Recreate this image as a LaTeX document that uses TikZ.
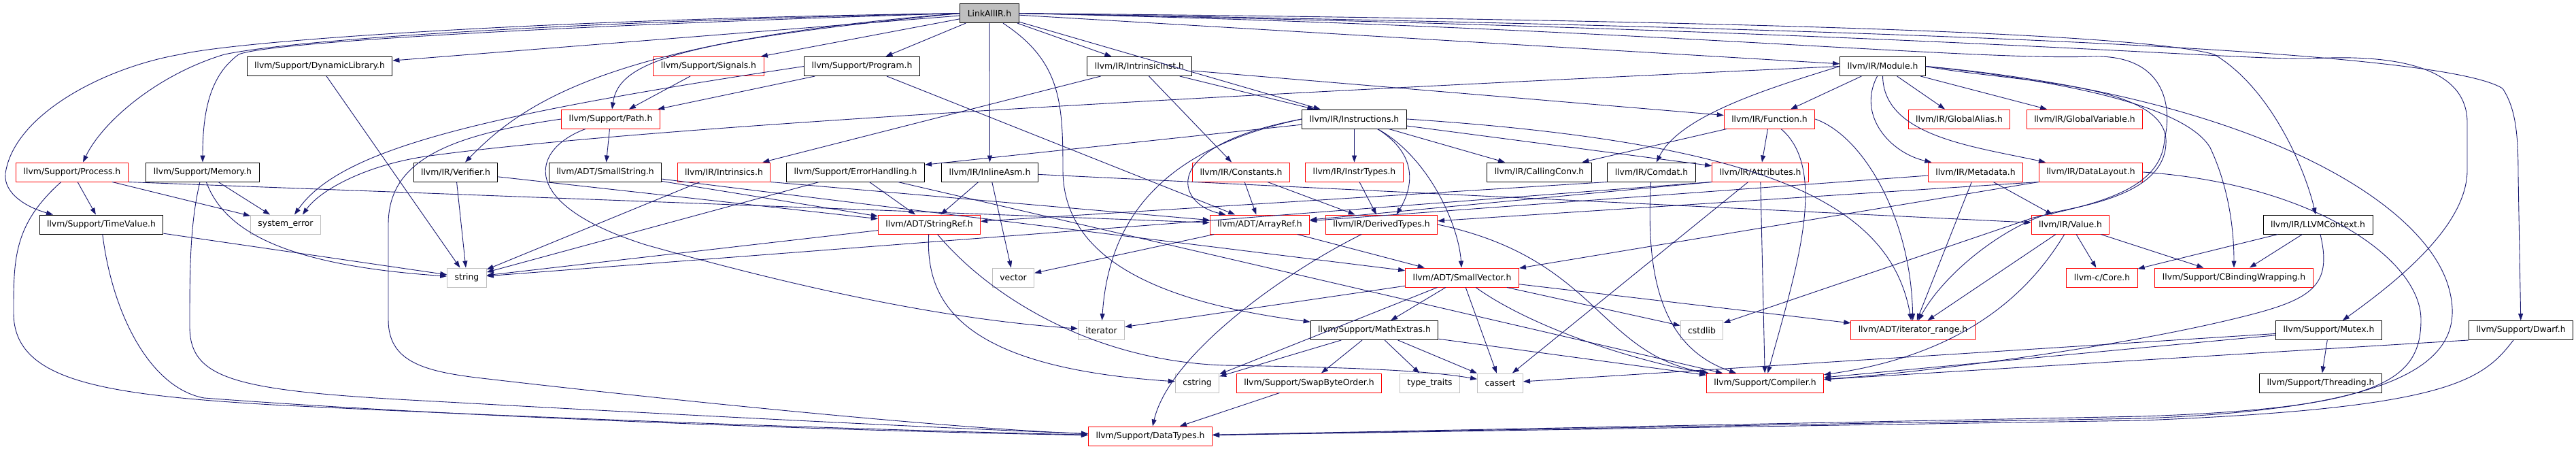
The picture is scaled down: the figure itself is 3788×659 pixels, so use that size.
\documentclass[tikz,border=0pt]{standalone}
\usepackage{fontspec}
\setmainfont{DejaVu Sans}
\usetikzlibrary{arrows.meta}
\definecolor{dxedge}{RGB}{25,25,112}
\definecolor{dxred}{RGB}{255,0,0}
\definecolor{dxgray}{RGB}{191,191,191}
\tikzset{
  dxbox/.style={
    line width=1pt, inner xsep=11pt, inner ysep=0pt,
    minimum height=28pt, font=\fontsize{12.4}{15}\selectfont
  },
  inc/.style={dxbox, draw=black},
  trunc/.style={dxbox, draw=dxred},
  sys/.style={dxbox, draw=dxgray},
  mainfile/.style={dxbox, draw=black, fill=dxgray},
  arr/.style={-{Triangle[length=10pt,width=7pt]}, draw=dxedge, line width=0.9pt}
}
\begin{document}
\begin{tikzpicture}[x=1pt,y=-1pt]
  \useasboundingbox (0,0) rectangle (3788,659);
  \node[mainfile] (root) at (1455,19.6) {LinkAllIR.h};
  \node[inc] (dynlib) at (470,97.5) {llvm/Support/DynamicLibrary.h};
  \node[trunc] (signals) at (1042,97.5) {llvm/Support/Signals.h};
  \node[inc] (program) at (1267.5,97.5) {llvm/Support/Program.h};
  \node[inc] (intrinst) at (1675.5,97.5) {llvm/IR/IntrinsicInst.h};
  \node[inc] (module) at (2768.5,97.5) {llvm/IR/Module.h};
  \node[trunc] (path) at (898,175) {llvm/Support/Path.h};
  \node[inc] (instrs) at (1991.5,175) {llvm/IR/Instructions.h};
  \node[trunc] (function) at (2602,175) {llvm/IR/Function.h};
  \node[trunc] (galias) at (2881,175) {llvm/IR/GlobalAlias.h};
  \node[trunc] (gvar) at (3065.5,175) {llvm/IR/GlobalVariable.h};
  \node[trunc] (process) at (106,253) {llvm/Support/Process.h};
  \node[inc] (memory) at (298,253) {llvm/Support/Memory.h};
  \node[inc] (verifier) at (670,253) {llvm/IR/Verifier.h};
  \node[inc] (smallstr) at (890,253) {llvm/ADT/SmallString.h};
  \node[trunc] (intrins) at (1064.5,253) {llvm/IR/Intrinsics.h};
  \node[inc] (errhand) at (1258,253) {llvm/Support/ErrorHandling.h};
  \node[inc] (inlineasm) at (1455.5,253) {llvm/IR/InlineAsm.h};
  \node[trunc] (constants) at (1825,253) {llvm/IR/Constants.h};
  \node[trunc] (instrtypes) at (1991.5,253) {llvm/IR/InstrTypes.h};
  \node[inc] (callconv) at (2263.5,253) {llvm/IR/CallingConv.h};
  \node[inc] (comdat) at (2428.5,253) {llvm/IR/Comdat.h};
  \node[trunc] (attrs) at (2588.5,253) {llvm/IR/Attributes.h};
  \node[trunc] (metadata) at (2905,253) {llvm/IR/Metadata.h};
  \node[trunc] (datalayout) at (3074.5,253) {llvm/IR/DataLayout.h};
  \node[inc] (timevalue) at (149,330) {llvm/Support/TimeValue.h};
  \node[sys] (syserr) at (420,330) {system\_error};
  \node[trunc] (stringref) at (1366.5,330) {llvm/ADT/StringRef.h};
  \node[trunc] (arrayref) at (1852.5,330) {llvm/ADT/ArrayRef.h};
  \node[trunc] (derived) at (2031.5,330) {llvm/IR/DerivedTypes.h};
  \node[trunc] (value) at (3044.5,330) {llvm/IR/Value.h};
  \node[inc] (llvmctx) at (3408.5,330) {llvm/IR/LLVMContext.h};
  \node[sys] (string) at (686.5,408) {string};
  \node[sys] (vector) at (1490,408) {vector};
  \node[trunc] (smallvec) at (2150,408) {llvm/ADT/SmallVector.h};
  \node[trunc] (core) at (3091,408) {llvm-c/Core.h};
  \node[trunc] (cbind) at (3285,408) {llvm/Support/CBindingWrapping.h};
  \node[sys] (iterator) at (1619.5,485.5) {iterator};
  \node[inc] (mathext) at (2021,485.5) {llvm/Support/MathExtras.h};
  \node[sys] (cstdlib) at (2502.5,485.5) {cstdlib};
  \node[trunc] (itrange) at (2813,485.5) {llvm/ADT/iterator\_range.h};
  \node[inc] (mutex) at (3424.5,485.5) {llvm/Support/Mutex.h};
  \node[inc] (dwarf) at (3707,485.5) {llvm/Support/Dwarf.h};
  \node[sys] (cstring) at (1760.5,563) {cstring};
  \node[trunc] (swapbyte) at (1925,563) {llvm/Support/SwapByteOrder.h};
  \node[sys] (typetraits) at (2102.5,563) {type\_traits};
  \node[sys] (cassert) at (2206,563) {cassert};
  \node[trunc] (compiler) at (2595.5,563) {llvm/Support/Compiler.h};
  \node[inc] (threading) at (3412.5,563) {llvm/Support/Threading.h};
  \node[trunc] (datatypes) at (1691.5,641) {llvm/Support/DataTypes.h};
  \foreach \p/\q in {root/dynlib,root/signals,root/program,root/inlineasm,root/intrinst,
      root/instrs,root/module,process/timevalue,process/syserr,process.south east/arrayref,
      memory/syserr,timevalue/string,dynlib/string,signals/path,program/path,
      program/arrayref,path/smallstr,verifier/string,verifier/stringref,
      smallstr/stringref,smallstr/smallvec,intrins/string,intrins.south east/arrayref,
      errhand/string,errhand/stringref,errhand/compiler,inlineasm/stringref,
      inlineasm/vector,inlineasm/value,intrinst/intrins,intrinst/constants,
      intrinst/instrs,intrinst/function,instrs/errhand,instrs/instrtypes,
      instrs/callconv,instrs/attrs,constants/arrayref,constants/derived,
      instrtypes/derived,comdat.south west/stringref,attrs.south west/arrayref,
      attrs/cassert,attrs/compiler,attrs.south west/string,function/attrs,
      function/callconv,module/function,module/galias,module/gvar,metadata/value,
      metadata/itrange,metadata/arrayref,datalayout.south west/smallvec,
      datalayout.south west/derived,value/core,value/itrange,value/cbind,
      llvmctx/core,llvmctx/cbind,stringref/string,arrayref/vector,arrayref/smallvec,
      smallvec/mathext,smallvec/cassert,smallvec/cstdlib,smallvec/itrange,
      smallvec/cstring,smallvec/iterator,mathext/swapbyte,mathext/typetraits,
      mathext/cassert,mathext/cstring,mathext/compiler,swapbyte/datatypes,
      mutex/threading,mutex/compiler,mutex/cassert,dwarf.south west/compiler}
    \draw[arr] (\p) -- (\q);
  \draw[arr] (root.west) .. controls (900,30) and (450,55) .. (330,80)
    .. controls (230,110) and (150,180) .. ([xshift=16pt]process.north);
  \draw[arr] (root.west) .. controls (800,28) and (350,60) .. (265,80)
    .. controls (150,100) and (20,170) .. (8,255)
    .. controls (5,285) and (40,305) .. ([xshift=-71pt]timevalue.north);
  \draw[arr] (root.west) .. controls (900,35) and (400,60) .. (351,80)
    .. controls (310,110) and (298,160) .. (memory);
  \draw[arr] (root.west) .. controls (1000,60) and (910,90) .. (path);
  \draw[arr] (root.west) .. controls (900,60) and (770,150) .. (verifier);
  \draw[arr] ([xshift=20pt]root.south) .. controls (1560,90) and (1563,150) .. (1563,250)
    .. controls (1563,400) and (1750,450) .. (mathext);
  \draw[arr] (root.east) .. controls (2600,30) and (3150,50) .. (3256,80)
    .. controls (3340,130) and (3390,250) .. (llvmctx);
  \draw[arr] (root.east) .. controls (2800,45) and (3300,90) .. (3400,86)
    .. controls (3550,78) and (3628,110) .. (3628,180) -- (3628,250)
    .. controls (3628,330) and (3530,410) .. (mutex);
  \draw[arr] (root.east) .. controls (3000,45) and (3600,80) .. (3680,130)
    .. controls (3700,160) and (3703,200) .. (3703,260) -- (dwarf);
  \draw[arr] (root.east) .. controls (2400,40) and (2900,90) .. (3077,83)
    .. controls (3200,80) and (3190,180) .. (3183,203)
    .. controls (3180,280) and (3080,300) .. (2990,320) -- (cstdlib);
  \draw[arr] (module.east) .. controls (2950,120) and (3180,120) .. (3185,205)
    .. controls (3188,280) and (3080,300) .. (3020,312)
    .. controls (2950,330) and (2860,400) .. (itrange);
  \draw[arr] (module.west) .. controls (2600,130) and (2470,170) .. (comdat);
  \draw[arr] ([xshift=-8pt]module.south) .. controls (2730,170) and (2780,225) .. (metadata);
  \draw[arr] (module.south) .. controls (2770,200) and (2900,215) .. (datalayout);
  \draw[arr] (module.west) .. controls (2000,130) and (1000,180) .. (640,228)
    .. controls (540,240) and (470,280) .. ([xshift=25pt]syserr.north);
  \draw[arr] (program.west) .. controls (700,170) and (500,220) .. ([xshift=13pt]syserr.north);
  \draw[arr] (module.east) .. controls (3000,115) and (3210,150) .. (3250,217)
    .. controls (3275,270) and (3285,330) .. (cbind);
  \draw[arr] (module.east) .. controls (3300,140) and (3560,290) .. (3600,420)
    .. controls (3630,520) and (3560,600) .. (3150,615) -- (datatypes);
  \draw[arr] (datalayout.east) .. controls (3400,270) and (3560,380) .. (3560,470)
    .. controls (3560,560) and (3500,600) .. (3150,612) -- (datatypes);
  \draw[arr] (dwarf) .. controls (3650,560) and (3600,600) .. (3150,618) -- (datatypes);
  \draw[arr] (llvmctx) .. controls (3430,420) and (3400,440) .. (3300,465)
    .. controls (3100,515) and (2800,550) .. (compiler);
  \draw[arr] (value) .. controls (2990,420) and (2900,520) .. (compiler);
  \draw[arr] (comdat) .. controls (2420,400) and (2440,510) .. (compiler);
  \draw[arr] (function) .. controls (2690,250) and (2640,400) .. (compiler);
  \draw[arr] (function.east) .. controls (2740,200) and (2810,320) .. (itrange);
  \draw[arr] (instrs.east) .. controls (2600,210) and (2780,300) .. (itrange);
  \draw[arr] ([xshift=34pt]instrs.south) .. controls (2100,230) and (2145,330) .. (smallvec);
  \draw[arr] ([xshift=34pt]instrs.south) .. controls (2090,230) and (2075,280) .. ([xshift=22pt]derived.north);
  \draw[arr] (instrs.west) .. controls (1700,215) and (1730,300) .. ([xshift=-50pt]arrayref.north);
  \draw[arr] (instrs.west) .. controls (1700,220) and (1630,330) .. (iterator);
  \draw[arr] ([xshift=-37pt]path.south) .. controls (780,220) and (760,300) .. (950,360)
    .. controls (1200,430) and (1400,470) .. (iterator);
  \draw[arr] (path.west) .. controls (650,200) and (571,240) .. (571,330) -- (571,470)
    .. controls (571,530) and (620,545) .. (700,555)
    .. controls (1000,590) and (1400,630) .. (datatypes);
  \draw[arr] ([xshift=-4pt]memory.south) .. controls (279,330) and (279,400) .. (279,480)
    .. controls (279,560) and (350,575) .. (640,590)
    .. controls (1000,610) and (1400,630) .. (datatypes);
  \draw[arr] (memory) .. controls (330,340) and (420,390) .. (string);
  \draw[arr] (process) .. controls (20,330) and (20,380) .. (20,460)
    .. controls (20,560) and (150,580) .. (400,595)
    .. controls (900,620) and (1400,635) .. (datatypes);
  \draw[arr] (timevalue) .. controls (165,460) and (220,570) .. (300,585)
    .. controls (700,615) and (1300,635) .. (datatypes);
  \draw[arr] (derived) .. controls (1890,400) and (1720,520) .. (datatypes);
  \draw[arr] (derived.east) .. controls (2350,380) and (2350,520) .. (compiler);
  \draw[arr] (smallvec) .. controls (2250,480) and (2400,530) .. (compiler);
  \draw[arr] (stringref) .. controls (1360,450) and (1420,540) .. (cstring);
  \draw[arr] (stringref) .. controls (1450,430) and (1600,530) .. (1800,537)
    .. controls (2000,540) and (2100,545) .. (cassert);
\end{tikzpicture}
\end{document}
